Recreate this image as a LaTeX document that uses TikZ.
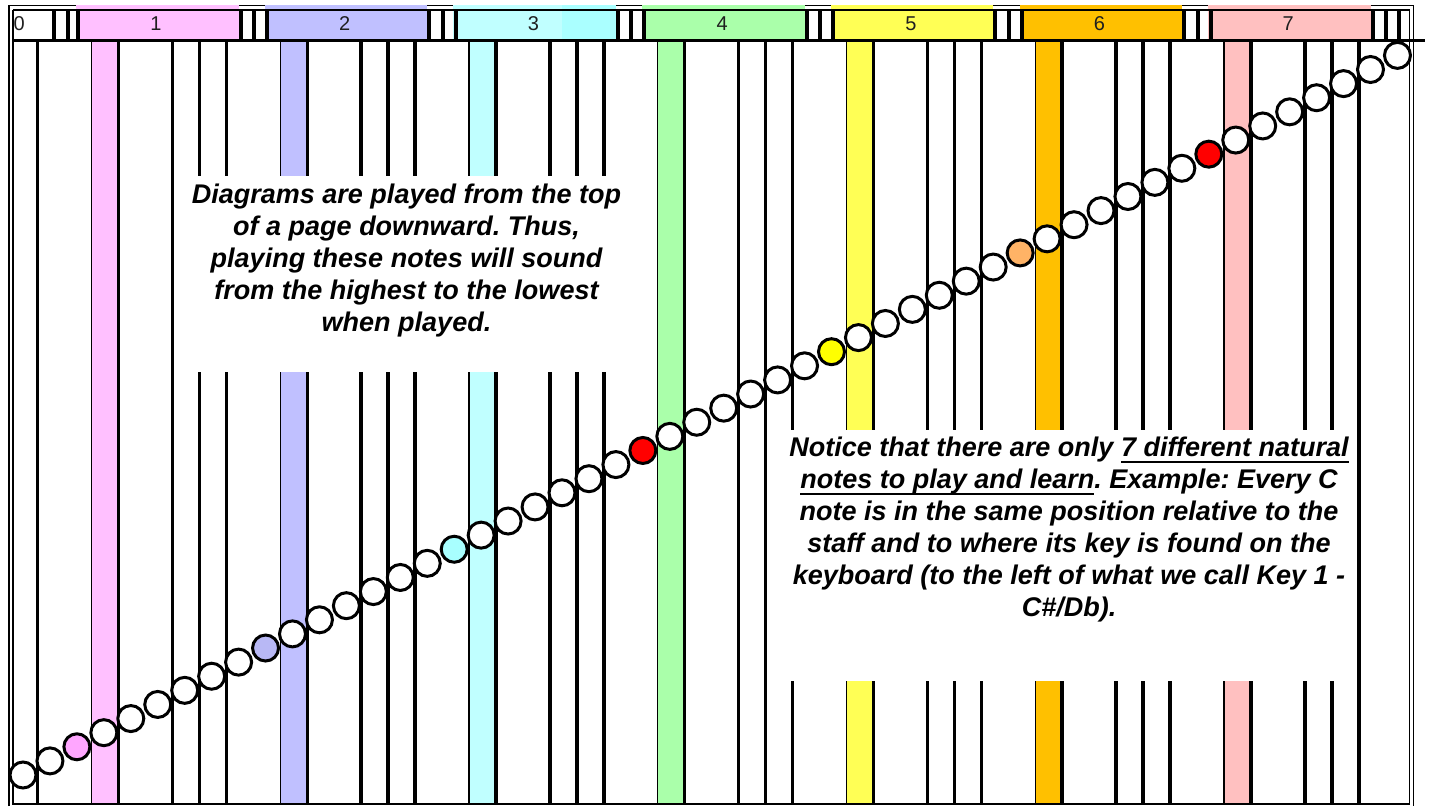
\documentclass[tikz,border=0pt]{standalone}
\usepackage{fontspec}
\setmainfont{Liberation Sans}
\frenchspacing

% key-column colours (header cells and staff bands)
\definecolor{kpink}{HTML}{FFC0FF}
\definecolor{kblue}{HTML}{C0C0FF}
\definecolor{kcyan}{HTML}{C0FFFF}
\definecolor{kcyanB}{HTML}{AAFFFF}
\definecolor{kgreen}{HTML}{AAFFAA}
\definecolor{kyellow}{HTML}{FFFF55}
\definecolor{korange}{HTML}{FFC000}
\definecolor{krose}{HTML}{FFC0C0}
% fills of the C notes, one per octave
\definecolor{notefill0}{HTML}{FFA6FF}
\definecolor{notefill1}{HTML}{B8B8F5}
\definecolor{notefill2}{HTML}{A8FFFF}
\definecolor{notefill3}{HTML}{FF0000}
\definecolor{notefill4}{HTML}{FFFF00}
\definecolor{notefill5}{HTML}{FFB366}
\definecolor{notefill6}{HTML}{FF0000}
\definecolor{notefill7}{HTML}{FFFFFF}

% underline with a fixed rule below the baseline
\newsavebox\ulbox
\newcommand\keyul[1]{\sbox\ulbox{#1}\rlap{\rule[-6.3pt]{\wd\ulbox}{2pt}}\usebox\ulbox}

\begin{document}
\begin{tikzpicture}[x=1pt,y=-1pt,
  keyline/.style={line width=3.5pt},
  edgeline/.style={line width=1.2pt},
  bar/.style={line width=4pt},
  frameline/.style={line width=1.3pt},
  note/.style={circle,draw=black,line width=3pt,minimum size=26pt,inner sep=0pt},
  numlabel/.style={font=\fontsize{20}{20}\selectfont,text=black!88,inner sep=0pt},
  caption/.style={font=\fontsize{27}{32}\selectfont\bfseries\itshape,align=center,inner sep=0pt}]

\useasboundingbox (0,0) rectangle (1429,806);
\fill[white] (0,0) rectangle (1429,806);

% outer frame lines
\draw[frameline] (9,806) -- (9,5.5) -- (1413.5,5.5) -- (1413.5,806);

% header cells
\foreach \j/\c in {1/kpink,2/kblue,3/kcyan,4/kgreen,5/kyellow,6/korange,7/krose}{
  \pgfmathsetmacro\s{80+188.7*(\j-1)}
  \fill[\c] (\s-4,4.5) rectangle (\s+158.5,40);
}
\fill[kcyanB] (561.7,4.5) rectangle (616,40);

% separator bars between header cells
\foreach \xb in {54,67.5,78}{
  \draw[bar] (\xb,10) -- (\xb,40);
}
\foreach \j in {1,...,7}{
  \pgfmathsetmacro\e{238.5+188.7*(\j-1)}
  \foreach \d in {2,15.5,28.5}{
    \draw[bar] (\e+\d,10) -- (\e+\d,40);
  }
}

% header numbers
\node[numlabel,anchor=west] (h0) at (13.5,24) {0};
\foreach \j in {1,...,7}{
  \pgfmathsetmacro\s{80+188.7*(\j-1)}
  \node[numlabel] (h\j) at (\s+76,24) {\j};
}

% coloured key bands
\foreach \j/\c in {0/kpink,1/kblue,2/kcyan,3/kgreen,4/kyellow,5/korange,6/krose}{
  \pgfmathsetmacro\a{37.7+26.96*(7*\j+2)}
  \pgfmathsetmacro\b{37.7+26.96*(7*\j+3)}
  \fill[\c] (\a,41) rectangle (\b,804);
  \draw[edgeline] (\a,41) -- (\a,804);
}

% staff lines
\foreach \j in {0,...,6}{
  \foreach \o in {0,3,5,6}{
    \pgfmathsetmacro\xx{37.7+26.96*(7*\j+\o)}
    \draw[keyline] (\xx,41) -- (\xx,804);
  }
}
\draw[keyline] ({37.7+26.96*49},41) -- ({37.7+26.96*49},804);

% inner frame and header rules
\draw[frameline] (13,10) -- (13,804);
\draw[frameline] (1409.5,10) -- (1409.5,804);
\draw[line width=2pt] (13,10) -- (1409.5,10);
\draw[line width=3pt] (13,40.5) -- (1425,40.5);
\draw[line width=2.5pt] (12.35,804) -- (1410.15,804);

% clear areas behind the captions
\fill[white] (180,176) rectangle (640,372);
\fill[white] (778,429.5) rectangle (1350,681);

% captions
\node[caption] (topnote) at (406.5,260.5)
  {Diagrams are played from the top\\
   of a page downward. Thus,\\
   playing these notes will sound\\
   from the highest to the lowest\\
   when played.};
\node[caption] (keynote) at (1069,530)
  {Notice that there are only \keyul{7 different natural}\\
   \keyul{notes to play and learn}. Example: Every C\\
   note is in the same position relative to the\\
   staff and to where its key is found on the\\
   keyboard (to the left of what we call Key 1 -\\
   C\#/Db).};

% the rising line of notes
\foreach \k in {0,...,51}{
  \pgfmathtruncatemacro\pos{mod(\k+5,7)}
  \ifnum\pos=0
    \pgfmathtruncatemacro\oct{(\k-2)/7}
    \edef\fc{notefill\oct}
  \else
    \def\fc{white}
  \fi
  \node[note,fill=\fc] (c\k) at ({23+26.95*\k},{775-14.11*\k}) {};
}
\end{tikzpicture}
\end{document}
